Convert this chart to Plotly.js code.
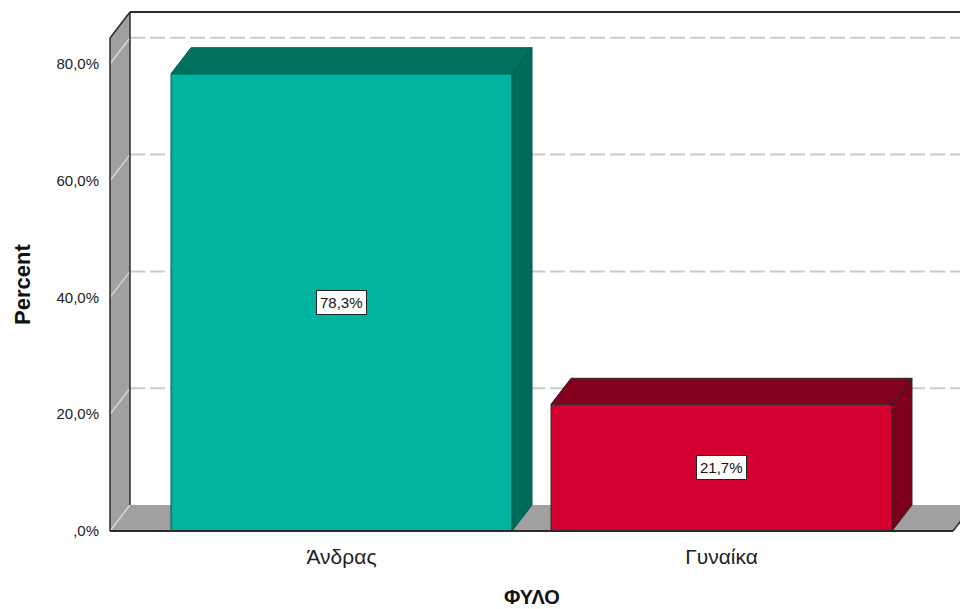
<!DOCTYPE html>
<html>
<head>
<meta charset="utf-8">
<script src="https://cdn.plot.ly/plotly-3.0.1.min.js"></script>
<style>html,body{margin:0;padding:0;background:#fff;}#chart{width:960px;height:609px;}</style>
</head>
<body>
<div id="chart"></div>
<script>
// ---- data ----
const categories = ['Άνδρας', 'Γυναίκα'];
const percentValues = [78.3, 21.7];
const valueLabels = ['78,3%', '21,7%'];
const tickValues = [0, 20, 40, 60, 80];
const tickLabels = [',0%', '20,0%', '40,0%', '60,0%', '80,0%'];
const xTitle = 'ΦΥΛΟ';
const yTitle = 'Percent';

// ---- styling / geometry (pixels of the reference frame) ----
const W = 960, H = 609;
const L = 106, R = 960, T = 8, B = 536;     // plot area in px
const PX_PER_UNIT = 5.84;                   // px per percent
const PX_PER_CAT = 380;                     // px per category
const X0PX = 341.5, Y0PX = 531;             // pixel of category 0 / value 0
const xRange = [(L - X0PX) / PX_PER_CAT, (R - X0PX) / PX_PER_CAT];
const yRange = [-(B - Y0PX) / PX_PER_UNIT, (Y0PX - T) / PX_PER_UNIT];
const xL = (110 - X0PX) / PX_PER_CAT, xR = (953 - X0PX) / PX_PER_CAT;
const dX = 20 / PX_PER_CAT, dY = 26 / PX_PER_UNIT;
const frontTop = (Y0PX - 38) / PX_PER_UNIT;
const backTop = frontTop + dY;
const barW = 341 / PX_PER_CAT;

const frontColors = ['#00B2A0', '#D4002F'];
const topColors = ['#00705F', '#84001F'];
const sideColors = ['#006A5B', '#7C001D'];
const edge = '#2a2a2a';
const wallGray = '#A0A0A0';
const FONT = 'Liberation Sans, Arial, sans-serif';

const shapes = [];
// back wall
shapes.push({type:'rect', layer:'below', xref:'x', yref:'y', x0:xL+dX, x1:xR+dX+0.2, y0:dY, y1:backTop,
  fillcolor:'#ffffff', line:{width:0}});
// back gridlines (dashed)
tickValues.forEach(t => {
  if (t > 0) shapes.push({type:'line', layer:'below', xref:'x', yref:'y', x0:xL+dX, x1:xR+dX+0.2, y0:t+dY, y1:t+dY,
    line:{color:'#cacaca', width:2, dash:'15px,5px'}});
});
// left wall
shapes.push({type:'path', layer:'below', xref:'x', yref:'y',
  path:`M ${xL},0 L ${xL},${frontTop} L ${xL+dX},${backTop} L ${xL+dX},${dY} Z`,
  fillcolor:wallGray, line:{width:0}});
// floor
shapes.push({type:'path', layer:'below', xref:'x', yref:'y',
  path:`M ${xL},0 L ${xR},0 L ${xR+dX},${dY} L ${xL+dX},${dY} Z`,
  fillcolor:wallGray, line:{width:0}});
// left-wall tick diagonals
tickValues.forEach(t => {
  shapes.push({type:'line', layer:'below', xref:'x', yref:'y', x0:xL, x1:xL+dX, y0:t, y1:t+dY,
    line:{color:'#d6d6d6', width:1.5}});
});
// frame edges
shapes.push({type:'line', layer:'below', xref:'x', yref:'y', x0:xL+dX, x1:xR+dX+0.2, y0:backTop, y1:backTop, line:{color:edge, width:2}});
shapes.push({type:'line', layer:'below', xref:'x', yref:'y', x0:xL+dX, x1:xL+dX, y0:dY, y1:backTop, line:{color:edge, width:1.5}});
shapes.push({type:'line', layer:'below', xref:'x', yref:'y', x0:xL, x1:xL, y0:0, y1:frontTop, line:{color:edge, width:1.5}});
shapes.push({type:'line', layer:'below', xref:'x', yref:'y', x0:xL, x1:xL+dX, y0:frontTop, y1:backTop, line:{color:edge, width:1.5}});
shapes.push({type:'line', layer:'below', xref:'x', yref:'y', x0:xR, x1:xR+dX, y0:0, y1:dY, line:{color:edge, width:1.5}});

// 3D faces of the bars, computed from the values
percentValues.forEach((v, i) => {
  const a = i - barW / 2, b = i + barW / 2;
  shapes.push({type:'path', layer:'above', xref:'x', yref:'y',
    path:`M ${a},${v} L ${a+dX},${v+dY} L ${b+dX},${v+dY} L ${b},${v} Z`,
    fillcolor:topColors[i], line:{color: i === 0 ? '#005a4e' : edge, width:1}});
  shapes.push({type:'path', layer:'above', xref:'x', yref:'y',
    path:`M ${b},0 L ${b+dX},${dY} L ${b+dX},${v+dY} L ${b},${v} Z`,
    fillcolor:sideColors[i], line:{color: i === 0 ? '#005a4e' : edge, width:1}});
});
// front floor edge
shapes.push({type:'line', layer:'above', xref:'x', yref:'y', x0:xL, x1:xR, y0:0, y1:0, line:{color:edge, width:2}});

const annotations = percentValues.map((v, i) => ({
  xref:'x', yref:'y', x:i, y:v/2, text:valueLabels[i], showarrow:false,
  font:{family:FONT, size:15, color:'#111'},
  bgcolor:'#ffffff', bordercolor:'#222', borderwidth:1, borderpad:3
}));
annotations.push({xref:'paper', yref:'paper', x:(532 - L)/(R - L), y:(B - 597)/(B - T),
  text:'<b>' + xTitle + '</b>', showarrow:false, xanchor:'center', yanchor:'middle',
  font:{family:FONT, size:20, color:'#111'}});
annotations.push({xref:'paper', yref:'paper', x:(22 - L)/(R - L), y:(B - 285)/(B - T),
  text:'<b>' + yTitle + '</b>', showarrow:false, xanchor:'center', yanchor:'middle', textangle:-90,
  font:{family:FONT, size:22, color:'#111'}});

const trace = {
  type:'bar', x:categories, y:percentValues, width:barW,
  marker:{color:frontColors, line:{color:['#005a4e', edge], width:1}},
  hoverinfo:'x+y', showlegend:false
};

const layout = {
  width:W, height:H,
  margin:{l:L, r:W-R, t:T, b:H-B, pad:0},
  paper_bgcolor:'#ffffff', plot_bgcolor:'rgba(0,0,0,0)',
  showlegend:false,
  xaxis:{type:'category', range:xRange, showgrid:false, zeroline:false, showline:false,
    ticks:'outside', ticklen:2, tickcolor:'rgba(0,0,0,0)',
    tickfont:{family:FONT, size:21, color:'#222'}, fixedrange:true},
  yaxis:{range:yRange, tickvals:tickValues, ticktext:tickLabels, showgrid:false, zeroline:false, showline:false,
    ticks:'outside', ticklen:3, tickcolor:'rgba(0,0,0,0)',
    tickfont:{family:FONT, size:15, color:'#222'}, fixedrange:true},
  shapes:shapes, annotations:annotations
};

Plotly.newPlot('chart', [trace], layout, {displayModeBar:false, staticPlot:true});
</script>
</body>
</html>
